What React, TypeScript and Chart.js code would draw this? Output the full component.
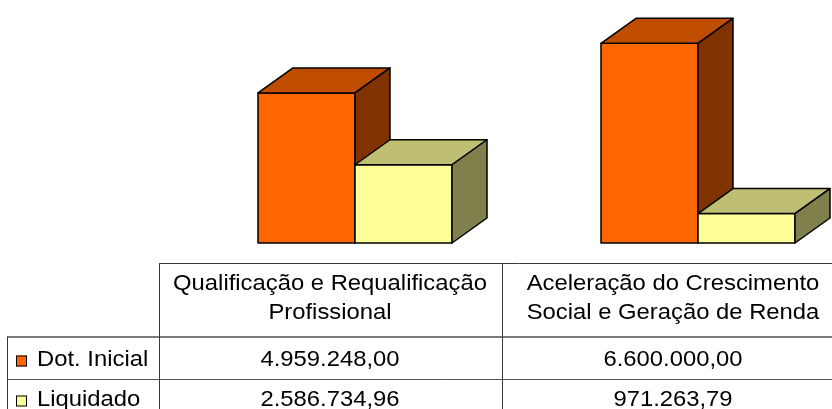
import React, { useEffect, useRef } from "react";
import { Chart, registerables } from "chart.js";

Chart.register(...registerables);

const categories: string[][] = [
  ["Qualificação e Requalificação", "Profissional"],
  ["Aceleração do Crescimento", "Social e Geração de Renda"],
];
const seriesNames = ["Dot. Inicial", "Liquidado"];
const dotInicial = [4959248.0, 6600000.0];
const liquidado = [2586734.96, 971263.79];

const frontColors = ["#FF6600", "#FFFF99"];
const topColors = ["#C04C00", "#BFBF73"];
const sideColors = ["#803300", "#80804C"];

function fmtBR(v: number): string {
  const neg = v < 0;
  const fixed = Math.abs(v).toFixed(2);
  const [intPart, dec] = fixed.split(".");
  const withDots = intPart.replace(/\B(?=(\d{3})+(?!\d))/g, ".");
  return (neg ? "-" : "") + withDots + "," + dec;
}

const DX = 35;
const DY = 25;
const FONT = '22px "Liberation Sans", Arial, sans-serif';
const STRETCH = 1.083;

const box3dPlugin = {
  id: "box3d",
  afterDatasetsDraw(chart: any) {
    const ctx = chart.ctx;
    const n = chart.data.labels.length;
    ctx.save();
    ctx.lineWidth = 1.5;
    ctx.strokeStyle = "#000";
    ctx.lineJoin = "round";
    for (let i = 0; i < n; i++) {
      chart.data.datasets.forEach((_ds: any, d: number) => {
        const el = chart.getDatasetMeta(d).data[i];
        const { x, y, base, width } = el.getProps(["x", "y", "base", "width"], true);
        const l = x - width / 2;
        const r = x + width / 2;
        // front
        ctx.fillStyle = frontColors[d];
        ctx.beginPath();
        ctx.rect(l, y, r - l, base - y);
        ctx.fill();
        ctx.stroke();
        // top
        ctx.fillStyle = topColors[d];
        ctx.beginPath();
        ctx.moveTo(l, y);
        ctx.lineTo(l + DX, y - DY);
        ctx.lineTo(r + DX, y - DY);
        ctx.lineTo(r, y);
        ctx.closePath();
        ctx.fill();
        ctx.stroke();
        // side
        ctx.fillStyle = sideColors[d];
        ctx.beginPath();
        ctx.moveTo(r, y);
        ctx.lineTo(r + DX, y - DY);
        ctx.lineTo(r + DX, base - DY);
        ctx.lineTo(r, base);
        ctx.closePath();
        ctx.fill();
        ctx.stroke();
      });
    }
    ctx.restore();
  },
};

function stretchedText(ctx: any, s: string, x: number, baseline: number, align: string) {
  ctx.save();
  ctx.translate(x, baseline);
  ctx.scale(STRETCH, 1);
  ctx.textAlign = align;
  ctx.textBaseline = "alphabetic";
  ctx.fillText(s, 0, 0);
  ctx.restore();
}

const tablePlugin = {
  id: "dataTable",
  afterDraw(chart: any) {
    const ctx = chart.ctx;
    const xs = chart.scales.x;
    const n = chart.data.labels.length;
    const catW = (xs.right - xs.left) / n;
    const W = chart.width;
    const top = 263;
    const r1 = 337;
    const r2 = 379;
    const bottom = 421;
    const leftEdge = 7;
    const firstCol = xs.getPixelForValue(0) - 25 - catW / 2;

    ctx.save();
    // lines
    ctx.strokeStyle = "#3a3a3a";
    ctx.lineWidth = 1;
    ctx.beginPath();
    ctx.moveTo(Math.round(firstCol) + 0.5, top + 0.5);
    ctx.lineTo(W, top + 0.5);
    ctx.stroke();

    ctx.strokeStyle = "#7a7a7a";
    ctx.lineWidth = 2;
    ctx.beginPath();
    ctx.moveTo(leftEdge, r1);
    ctx.lineTo(W, r1);
    ctx.stroke();

    ctx.strokeStyle = "#555";
    ctx.lineWidth = 1;
    ctx.beginPath();
    ctx.moveTo(leftEdge, r2 + 0.5);
    ctx.lineTo(W, r2 + 0.5);
    ctx.stroke();

    ctx.strokeStyle = "#3a3a3a";
    ctx.beginPath();
    ctx.moveTo(leftEdge + 0.5, r1);
    ctx.lineTo(leftEdge + 0.5, bottom);
    for (let i = 0; i <= n; i++) {
      const vx = Math.round(firstCol + i * catW) + 0.5;
      ctx.moveTo(vx, top);
      ctx.lineTo(vx, bottom);
    }
    ctx.stroke();

    // texts
    ctx.font = FONT;
    ctx.fillStyle = "#000";
    const headerBaselines = [289.5, 318.5];
    for (let i = 0; i < n; i++) {
      const cx = firstCol + catW * (i + 0.5);
      const lines = chart.data.labels[i] as string[];
      lines.forEach((ln: string, k: number) => stretchedText(ctx, ln, cx, headerBaselines[k], "center"));
    }
    const rowBaselines = [365.5, 405.5];
    chart.data.datasets.forEach((ds: any, d: number) => {
      const bl = rowBaselines[d];
      // legend key
      ctx.fillStyle = frontColors[d];
      ctx.fillRect(16, bl - 10, 11, 11);
      ctx.strokeStyle = "#000";
      ctx.lineWidth = 1;
      ctx.strokeRect(16.5, bl - 9.5, 10, 10);
      ctx.fillStyle = "#000";
      stretchedText(ctx, ds.label, 37, bl, "left");
      for (let i = 0; i < n; i++) {
        const cx = firstCol + catW * (i + 0.5);
        stretchedText(ctx, fmtBR(ds.data[i]), cx, bl, "center");
      }
    });
    ctx.restore();
  },
};

export default function App() {
  const ref = useRef<HTMLCanvasElement | null>(null);
  useEffect(() => {
    if (!ref.current) return;
    const chart = new Chart(ref.current, {
      type: "bar",
      data: {
        labels: categories,
        datasets: [
          {
            label: seriesNames[0],
            data: dotInicial,
            backgroundColor: "rgba(0,0,0,0)",
            borderWidth: 0,
          },
          {
            label: seriesNames[1],
            data: liquidado,
            backgroundColor: "rgba(0,0,0,0)",
            borderWidth: 0,
          },
        ],
      },
      options: {
        responsive: false,
        animation: false,
        devicePixelRatio: 1,
        datasets: {
          bar: { categoryPercentage: 0.5656, barPercentage: 1 },
        },
        layout: { padding: { left: 183.5, right: 10.5, top: 1, bottom: 166 } },
        plugins: {
          legend: { display: false },
          tooltip: { enabled: false },
          title: { display: false },
        },
        scales: {
          x: { type: "category", display: false, offset: true },
          y: { type: "linear", display: false, min: 0, max: 8000000 },
        },
      },
      plugins: [box3dPlugin, tablePlugin],
    } as any);
    return () => chart.destroy();
  }, []);
  return (
    <div
      style={{
        position: "fixed",
        left: 0,
        top: 0,
        width: 832,
        height: 409,
        overflow: "hidden",
        background: "#fff",
      }}
    >
      <canvas ref={ref} width={880} height={409} style={{ display: "block", width: 880, height: 409 }} />
    </div>
  );
}
